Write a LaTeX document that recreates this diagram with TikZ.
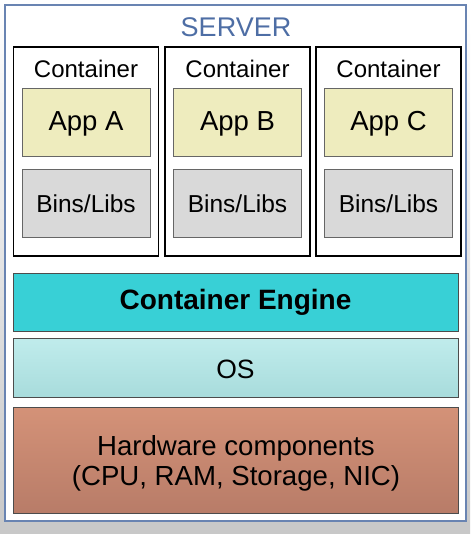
\documentclass[tikz,border=0pt]{standalone}
\usepackage{fontspec}
\setmainfont{Liberation Sans}
\begin{document}
\begin{tikzpicture}[x=1pt,y=-1pt,
  frame/.style={draw=black,line width=1.6pt},
  appbox/.style={draw=black!60,line width=0.6pt,fill=appyel,minimum width=128pt,minimum height=68pt},
  libbox/.style={draw=black!60,line width=0.6pt,fill=libgray,minimum width=128pt,minimum height=68pt},
  layer/.style={draw=black!70,line width=0.8pt,minimum width=445pt,inner sep=0pt},
  lbl/.style={font=\fontsize{24}{28}\selectfont}]
\definecolor{appyel}{RGB}{238,236,190}
\definecolor{libgray}{RGB}{217,217,217}
\definecolor{engteal}{RGB}{56,208,214}
\definecolor{ostop}{RGB}{192,236,236}
\definecolor{osbot}{RGB}{168,220,220}
\definecolor{hwtop}{RGB}{212,146,120}
\definecolor{hwbot}{RGB}{184,124,104}
\definecolor{srvblue}{RGB}{78,110,165}
\definecolor{bgbot}{RGB}{200,200,200}
\useasboundingbox (0,0) rectangle (470,534);
\shade[top color=white,bottom color=bgbot] (0,0) rectangle (470,534);
\node[draw=srvblue!85,line width=1.6pt,fill=white,minimum width=461pt,minimum height=516pt,inner sep=0pt] (server) at (235.5,263) {};
\node[text=srvblue,font=\fontsize{27}{30}\selectfont] (title) at (236,27) {SERVER};
% containers
\foreach \n/\cx/\lab in {a/86/A,b/237.5/B,c/388.5/C}{
  \node[frame,minimum width=145pt,minimum height=209pt,inner sep=0pt] (cont\n) at (\cx,151.5) {};
  \node[appbox] (app\n) at (\cx,122) {};
  \node[libbox] (libs\n) at (\cx,203) {};
  \node[lbl] (ctitle\n) at (\cx,69) {Container};
  \node[font=\fontsize{27.5}{30}\selectfont] (apptext\n) at (\cx,124) {App \lab};
  \node[font=\fontsize{24.5}{28}\selectfont] (libtext\n) at (\cx,204) {Bins/Libs};
}
\node[layer,fill=engteal,minimum height=58pt,font=\fontsize{28}{30}\selectfont\bfseries] (engine) at (235.5,302) {Container Engine};
\node[layer,top color=ostop,bottom color=osbot,minimum height=59pt] (os) at (235.5,367.5) {};
\node[font=\fontsize{26.5}{30}\selectfont] (ostext) at (235.5,369.5) {OS};
\node[layer,top color=hwtop,bottom color=hwbot,minimum height=106pt] (hw) at (236,460) {};
\node[align=center,font=\fontsize{27.6}{30}\selectfont] (hwtext) at (236,463) {Hardware components\\(CPU, RAM, Storage, NIC)};
\end{tikzpicture}
\end{document}
